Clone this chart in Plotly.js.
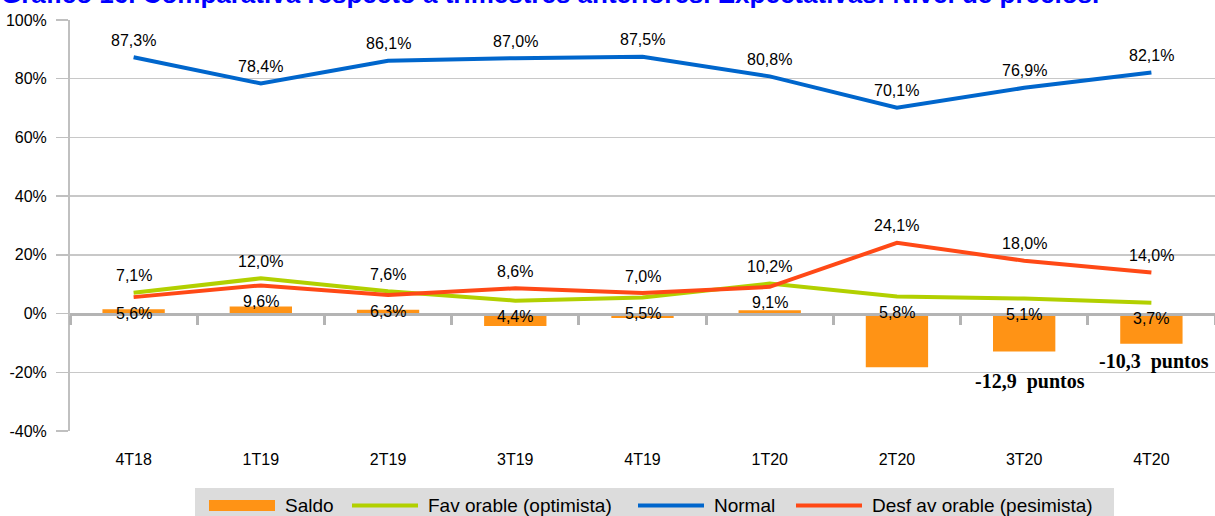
<!DOCTYPE html>
<html>
<head>
<meta charset="utf-8">
<script src="https://cdn.plot.ly/plotly-3.0.1.min.js"></script>
<style>html,body{margin:0;padding:0;background:#fff;}#chart{width:1215px;height:516px;}</style>
</head>
<body>
<div id="chart"></div>
<script>
const titleText = 'Gráfico 16. Comparativa respecto a trimestres anteriores. Expectativas: Nivel de precios.';
const categories = ['4T18','1T19','2T19','3T19','4T19','1T20','2T20','3T20','4T20'];
const saldo = [1.5, 2.4, 1.3, -4.2, -1.5, 1.1, -18.3, -12.9, -10.3];
const favorable = [7.1, 12.0, 7.6, 4.4, 5.5, 10.2, 5.8, 5.1, 3.7];
const normal = [87.3, 78.4, 86.1, 87.0, 87.5, 80.8, 70.1, 76.9, 82.1];
const desfavorable = [5.6, 9.6, 6.3, 8.6, 7.0, 9.1, 24.1, 18.0, 14.0];
const puntosCats = ['3T20', '4T20'];
const puntosText = ['-12,9  puntos', '-10,3  puntos'];
const yTicks = [-40, -20, 0, 20, 40, 60, 80, 100];
const seriesNames = ['Saldo', 'Fav orable (optimista)', 'Normal', 'Desf av orable (pesimista)'];
const seriesColors = ['#FF9315', '#B2D000', '#0066CC', '#FF4916'];

const FONT = 'Liberation Sans, Arial, sans-serif';
const fmt = v => v.toFixed(1).replace('.', ',') + '%';

const traces = [
  {type:'bar', name:seriesNames[0], x:categories, y:saldo, marker:{color:seriesColors[0]}, xaxis:'x', yaxis:'y', showlegend:false},
  {type:'scatter', mode:'lines', name:seriesNames[1], x:categories, y:favorable, line:{color:seriesColors[1], width:4}, xaxis:'x2', yaxis:'y', showlegend:false},
  {type:'scatter', mode:'lines', name:seriesNames[2], x:categories, y:normal, line:{color:seriesColors[2], width:4}, xaxis:'x2', yaxis:'y', showlegend:false},
  {type:'scatter', mode:'lines', name:seriesNames[3], x:categories, y:desfavorable, line:{color:seriesColors[3], width:4}, xaxis:'x2', yaxis:'y', showlegend:false}
];

const annotations = [];
const lab = (x, y, text, yshift) => annotations.push({x, y, text, xref:'x2', yref:'y', showarrow:false, yshift, font:{family:FONT, size:16, color:'#000'}});
categories.forEach((c, i) => {
  lab(c, normal[i], fmt(normal[i]), 17);
  const f = favorable[i], d = desfavorable[i];
  lab(c, Math.max(f, d), fmt(Math.max(f, d)), 17);
  lab(c, Math.min(f, d), fmt(Math.min(f, d)), -16);
});
const puntosShift = [-30, -18];
const puntosDx = [6, 3];
puntosCats.forEach((c, k) => {
  const i = categories.indexOf(c);
  annotations.push({x:c, y:saldo[i], text:'<b>' + puntosText[k] + '</b>', xref:'x2', yref:'y', showarrow:false,
    yshift:puntosShift[k], xshift:puntosDx[k], font:{family:'Liberation Serif, Times New Roman, serif', size:20, color:'#000'}});
});

// Layout geometry in pixels, converted to paper coords
const M = {l:70, r:0, t:20, b:85}, W = 1215, H = 516;
const pw = W - M.l - M.r, ph = H - M.t - M.b;
const px = v => (v - M.l) / pw;
const py = v => (H - M.b - v) / ph;

// Title (top partly cut off, as in the reference)
annotations.push({xref:'paper', yref:'paper', x:px(-1), y:py(-6), xanchor:'left', yanchor:'middle', showarrow:false,
  text:'<b>' + titleText + '</b>', font:{family:FONT, size:26, color:'#0000FF'}});

// Custom legend
const shapes = [];
shapes.push({type:'rect', xref:'paper', yref:'paper', x0:px(195), x1:px(1114), y0:py(488), y1:py(520), fillcolor:'#DCDCDC', line:{width:0}, layer:'below'});
const legSwatchX = [209, 352, 638, 796];
const legTextX = [283, 426, 712, 870];
seriesNames.forEach((n, k) => {
  if (k === 0) {
    shapes.push({type:'rect', xref:'paper', yref:'paper', x0:px(legSwatchX[k]), x1:px(legSwatchX[k] + 66), y0:py(500), y1:py(511), fillcolor:seriesColors[k], line:{width:0}});
  } else {
    shapes.push({type:'line', xref:'paper', yref:'paper', x0:px(legSwatchX[k]), x1:px(legSwatchX[k] + 66), y0:py(505.5), y1:py(505.5), line:{color:seriesColors[k], width:4}});
  }
  annotations.push({xref:'paper', yref:'paper', x:px(legTextX[k]), y:py(505), xanchor:'left', yanchor:'middle', showarrow:false, text:n,
    font:{family:FONT, size:19, color:'#000'}});
});

const layout = {
  width:W, height:H,
  margin:{l:M.l, r:M.r, t:M.t, b:M.b, autoexpand:false},
  paper_bgcolor:'#fff', plot_bgcolor:'#fff',
  font:{family:FONT, size:16, color:'#000'},
  showlegend:false,
  bargap:0.51,
  xaxis:{type:'category', categoryorder:'array', categoryarray:categories, range:[-0.5, 8.5], showline:false, ticks:'', showgrid:false, zeroline:false,
    tickfont:{family:FONT, size:16, color:'#000'}, ticklabelstandoff:17, fixedrange:true},
  xaxis2:{type:'category', categoryorder:'array', categoryarray:categories, range:[-0.5, 8.5], overlaying:'x', anchor:'free', position:40/140,
    showline:true, linecolor:'#B4B4B4', linewidth:3, ticks:'outside', tickson:'boundaries', ticklen:9, tickwidth:3, tickcolor:'#B4B4B4',
    showticklabels:false, showgrid:false, zeroline:false},
  yaxis:{range:[-40, 100], tickvals:yTicks, ticktext:yTicks.map(v => v + '%'), showline:true, linecolor:'#C0C0C0', linewidth:2,
    ticks:'outside', ticklen:12, tickcolor:'#C0C0C0', tickwidth:1.5, gridcolor:'#C8C8C8', gridwidth:1.5, zeroline:false,
    tickfont:{family:FONT, size:16, color:'#000'}, ticklabelstandoff:6},
  shapes:shapes,
  annotations:annotations
};

Plotly.newPlot('chart', traces, layout, {displayModeBar:false, staticPlot:true});
</script>
</body>
</html>
